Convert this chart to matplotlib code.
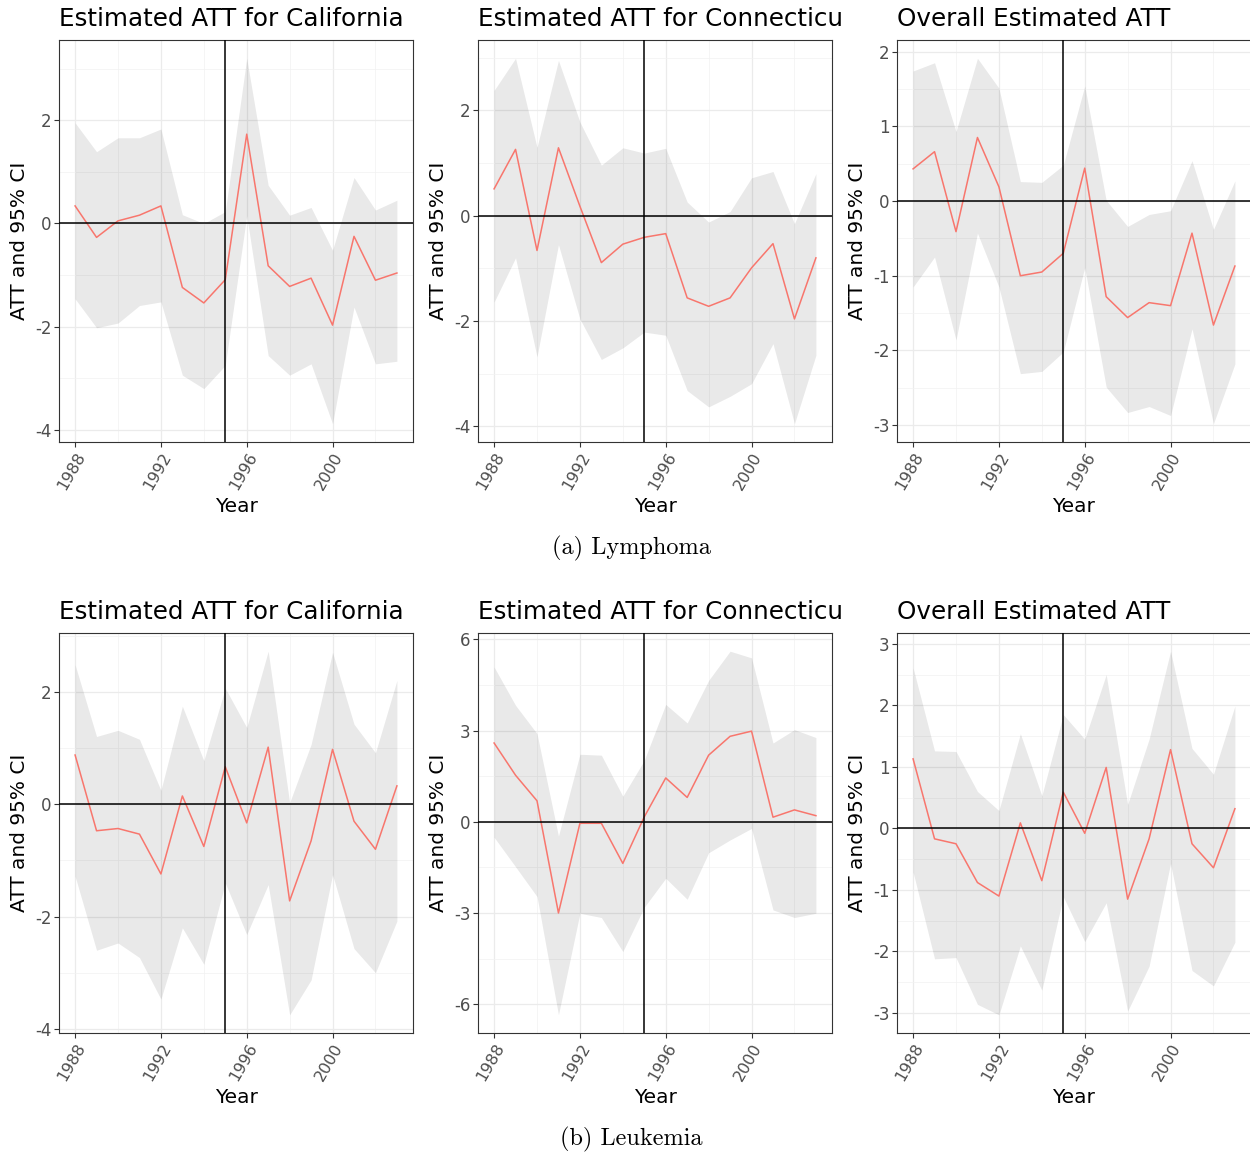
import matplotlib
matplotlib.use("Agg")
import matplotlib.pyplot as plt
from matplotlib.ticker import FixedLocator
from matplotlib.transforms import Bbox, TransformedBbox

plt.rcParams["font.family"] = ["DejaVu Sans"]
plt.rcParams["axes.unicode_minus"] = False

years = list(range(1988, 2004))

# Lymphoma
lym_ca_att = [0.34, -0.27, 0.05, 0.16, 0.34, -1.24, -1.54, -1.09, 1.73, -0.82, -1.22, -1.06, -1.97, -0.25, -1.10, -0.96]
lym_ca_upper = [1.95, 1.39, 1.66, 1.66, 1.83, 0.17, 0.00, 0.23, 3.20, 0.74, 0.16, 0.31, -0.52, 0.89, 0.26, 0.45]
lym_ca_lower = [-1.46, -2.02, -1.93, -1.59, -1.52, -2.94, -3.20, -2.75, 0.15, -2.56, -2.94, -2.72, -3.88, -1.62, -2.72, -2.67]

lym_ct_att = [0.51, 1.26, -0.66, 1.29, 0.18, -0.89, -0.54, -0.41, -0.34, -1.56, -1.72, -1.56, -0.99, -0.53, -1.96, -0.80]
lym_ct_upper = [2.38, 2.99, 1.30, 2.95, 1.78, 0.96, 1.29, 1.19, 1.28, 0.26, -0.12, 0.08, 0.72, 0.84, -0.15, 0.80]
lym_ct_lower = [-1.64, -0.80, -2.68, -0.55, -1.96, -2.73, -2.51, -2.21, -2.27, -3.32, -3.63, -3.43, -3.19, -2.43, -3.95, -2.65]

lym_all_att = [0.43, 0.66, -0.41, 0.85, 0.19, -1.00, -0.95, -0.70, 0.44, -1.28, -1.56, -1.36, -1.40, -0.43, -1.66, -0.87]
lym_all_upper = [1.74, 1.85, 0.93, 1.91, 1.51, 0.26, 0.25, 0.48, 1.54, 0.01, -0.34, -0.18, -0.13, 0.54, -0.38, 0.27]
lym_all_lower = [-1.15, -0.75, -1.86, -0.43, -1.15, -2.31, -2.28, -2.02, -0.89, -2.49, -2.83, -2.75, -2.87, -1.71, -2.98, -2.18]

# Leukemia
leu_ca_att = [0.88, -0.47, -0.43, -0.53, -1.24, 0.15, -0.75, 0.67, -0.33, 1.02, -1.72, -0.65, 0.98, -0.30, -0.80, 0.33]
leu_ca_upper = [2.49, 1.21, 1.32, 1.16, 0.25, 1.75, 0.78, 2.07, 1.37, 2.73, 0.03, 1.07, 2.71, 1.43, 0.92, 2.21]
leu_ca_lower = [-1.28, -2.60, -2.47, -2.73, -3.47, -2.20, -2.85, -1.40, -2.32, -1.43, -3.75, -3.13, -1.25, -2.57, -3.00, -2.08]

leu_ct_att = [2.59, 1.53, 0.69, -3.00, -0.05, -0.05, -1.37, 0.16, 1.44, 0.80, 2.19, 2.81, 2.98, 0.15, 0.39, 0.20]
leu_ct_upper = [5.09, 3.83, 2.90, -0.47, 2.22, 2.19, 0.84, 2.02, 3.86, 3.25, 4.65, 5.61, 5.39, 2.59, 3.03, 2.77]
leu_ct_lower = [-0.51, -1.48, -2.46, -6.35, -3.01, -3.15, -4.27, -2.81, -1.86, -2.55, -1.02, -0.60, -0.22, -2.90, -3.15, -3.01]

leu_all_att = [1.13, -0.17, -0.25, -0.88, -1.10, 0.09, -0.85, 0.59, -0.08, 0.99, -1.15, -0.17, 1.28, -0.25, -0.64, 0.32]
leu_all_upper = [2.61, 1.26, 1.25, 0.60, 0.29, 1.54, 0.53, 1.85, 1.45, 2.50, 0.39, 1.45, 2.88, 1.30, 0.88, 1.99]
leu_all_lower = [-0.71, -2.12, -2.10, -2.86, -3.03, -1.91, -2.63, -1.11, -1.84, -1.21, -2.97, -2.24, -0.57, -2.31, -2.56, -1.85]

titles = ["Estimated ATT for California", "Estimated ATT for Connecticut", "Overall Estimated ATT"]
captions = ["(a) Lymphoma", "(b) Leukemia"]
x_ticks = [1988, 1992, 1996, 2000]
treat_year = 1995

panels = [
    [(lym_ca_att, lym_ca_lower, lym_ca_upper, [-4, -2, 0, 2]),
     (lym_ct_att, lym_ct_lower, lym_ct_upper, [-4, -2, 0, 2]),
     (lym_all_att, lym_all_lower, lym_all_upper, [-3, -2, -1, 0, 1, 2])],
    [(leu_ca_att, leu_ca_lower, leu_ca_upper, [-4, -2, 0, 2]),
     (leu_ct_att, leu_ct_lower, leu_ct_upper, [-6, -3, 0, 3, 6]),
     (leu_all_att, leu_all_lower, leu_all_upper, [-3, -2, -1, 0, 1, 2, 3])],
]

W, H = 1250, 1154
fig = plt.figure(figsize=(W / 100, H / 100), dpi=100)

col_left = [59, 478, 897]
col_clip = [420, 842, 1250]
row_top = [40, 633]
row_height = [402, 400]
title_base = [26, 619]
caption_y = [548, 1139]
ax_w = 354

for r, row in enumerate(panels):
    for c, (att, lower, upper, yt) in enumerate(row):
        left = col_left[c] / W
        bottom = 1 - (row_top[r] + row_height[r]) / H
        ax = fig.add_axes([left, bottom, ax_w / W, row_height[r] / H])

        ax.fill_between(years, lower, upper, color="black", alpha=0.085, linewidth=0, zorder=2)
        ax.plot(years, att, color="#F8766D", linewidth=1.1, zorder=3)
        ax.axhline(0, color="black", linewidth=1.1, zorder=4)
        ax.axvline(treat_year, color="black", linewidth=1.1, zorder=4)
        ax.margins(x=0.05, y=0.05)

        ax.set_xticks(x_ticks)
        ax.set_yticks(yt)
        ax.xaxis.set_minor_locator(FixedLocator([1990, 1994, 1998, 2002]))
        step = yt[1] - yt[0]
        ax.yaxis.set_minor_locator(FixedLocator([v + step / 2 for v in [yt[0] - step] + yt]))
        ax.grid(which="major", color="#EBEBEB", linewidth=0.9, zorder=0)
        ax.grid(which="minor", color="#F2F2F2", linewidth=0.5, zorder=0)
        ax.set_axisbelow(True)

        ax.tick_params(which="major", length=3.5, width=0.8, color="#333333",
                       labelcolor="#4D4D4D", labelsize=12, pad=2)
        ax.tick_params(axis="x", which="major", labelsize=11.5, pad=2)
        ax.tick_params(which="minor", length=0)
        ax.set_xticklabels([str(t) for t in x_ticks], rotation=60, ha="right",
                           va="top", rotation_mode="anchor")
        for sp in ax.spines.values():
            sp.set_color("#333333")
            sp.set_linewidth(0.8)

        ax.set_xlabel("Year", fontsize=14.5)
        ax.xaxis.set_label_coords(0.5, -0.137)
        ax.xaxis.label.set_va("top")
        ax.set_ylabel("ATT and 95% CI", fontsize=14.5)
        ax.yaxis.set_label_coords(-0.085, 0.5)

        t = fig.text(left, 1 - title_base[r] / H, titles[c], fontsize=17.7,
                     ha="left", va="baseline")
        clip_lo = 0 if c == 0 else col_clip[c - 1]
        clip = Bbox.from_extents(clip_lo / W, 0, col_clip[c] / W, 1)
        t.set_clip_box(TransformedBbox(clip, fig.transFigure))
        t.set_clip_on(True)

    fig.text(631 / W, 1 - caption_y[r] / H, captions[r], fontsize=17.5,
             family="cmr10", ha="center", va="center")

fig.savefig("out.png", dpi=100, facecolor="white")
